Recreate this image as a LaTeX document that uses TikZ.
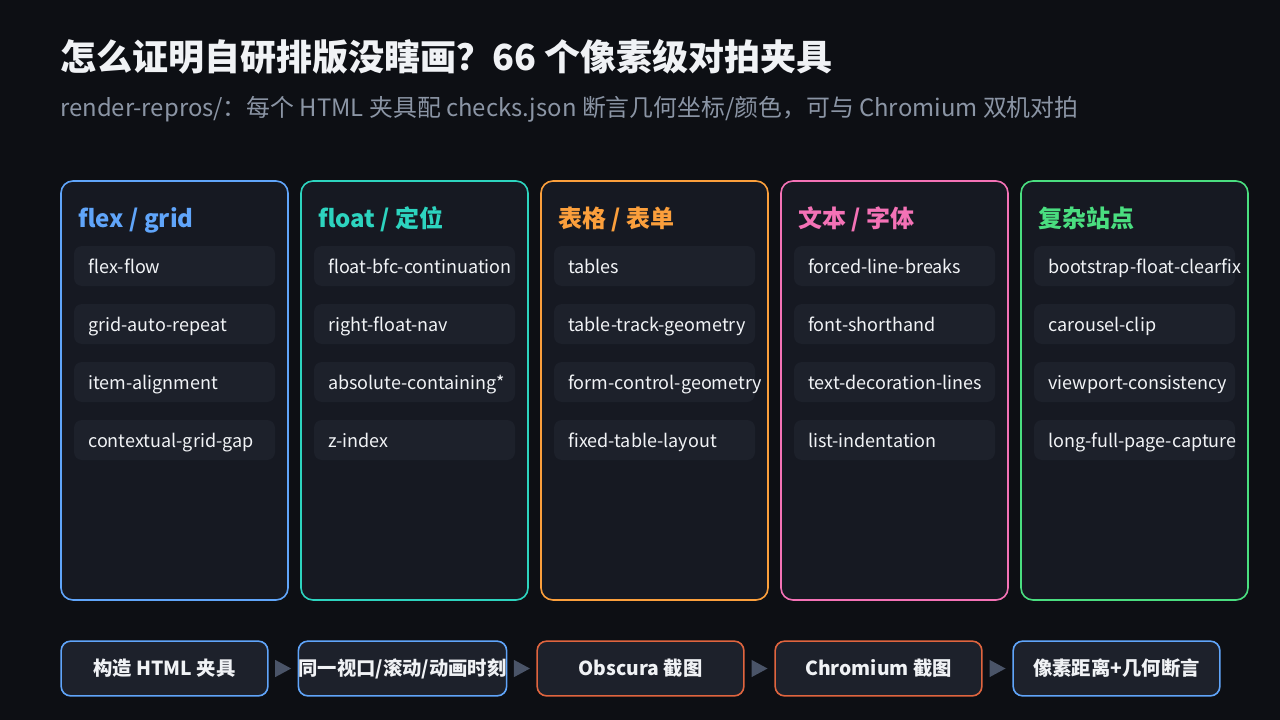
\documentclass[tikz,border=0pt]{standalone}
\usepackage{fontspec}
\setmainfont{Noto Sans CJK SC}
\usetikzlibrary{positioning}
\definecolor{bgc}{HTML}{0D0F14}
\definecolor{cardc}{HTML}{161922}
\definecolor{itemc}{HTML}{1D212B}
\definecolor{titlec}{HTML}{F0F2F5}
\definecolor{subc}{HTML}{8B95A5}
\definecolor{blu}{HTML}{60A5FA}
\definecolor{tea}{HTML}{2DD4BF}
\definecolor{ora}{HTML}{FB9F3C}
\definecolor{pnk}{HTML}{F472B6}
\definecolor{grn}{HTML}{4ADE80}
\definecolor{red}{HTML}{E0653F}
\definecolor{arr}{HTML}{4A5468}
\tikzset{
  card/.style={draw=#1, line width=1.2pt, fill=cardc, rounded corners=9pt},
  item/.style={fill=itemc, rounded corners=6pt},
  head/.style={anchor=base west, inner sep=0pt, text=#1, font=\fontsize{18}{20}\selectfont\bfseries},
  itxt/.style={anchor=base west, inner sep=0pt, text=titlec!90, font=\fontsize{13.5}{15}\selectfont},
  step/.style={draw=#1, line width=1.2pt, fill=itemc, rounded corners=7pt, minimum width=155pt, minimum height=41pt, inner sep=0pt, text=titlec, font=\fontsize{14.5}{16}\selectfont\bfseries},
  tip/.style={fill=arr}
}
\begin{document}
\begin{tikzpicture}[x=0.75pt,y=0.75pt,yscale=-1]
\fill[bgc] (0,0) rectangle (1280,720);
\useasboundingbox (0,0) rectangle (1280,720);

% title
\node[anchor=base west, inner sep=0pt, text=titlec, font=\fontsize{27}{30}\selectfont\bfseries] (title) at (60,71) {怎么证明自研排版没瞎画？66 个像素级对拍夹具};
\node[anchor=base west, inner sep=0pt, text=subc, font=\fontsize{17.9}{20}\selectfont] (sub) at (60,117) {render-repros/：每个 HTML 夹具配 checks.json 断言几何坐标/颜色，可与 Chromium 双机对拍};

% columns
\foreach \x/\c/\h/\a/\b/\cc/\d [count=\i] in {
  61/blu/{flex / grid}/flex-flow/grid-auto-repeat/item-alignment/contextual-grid-gap,
  301/tea/{float / 定位}/float-bfc-continuation/right-float-nav/absolute-containing*/z-index,
  541/ora/{表格 / 表单}/tables/table-track-geometry/form-control-geometry/fixed-table-layout,
  781/pnk/{文本 / 字体}/forced-line-breaks/font-shorthand/text-decoration-lines/list-indentation,
  1021/grn/复杂站点/bootstrap-float-clearfix/carousel-clip/viewport-consistency/long-full-page-capture}{
  \draw[card=\c] (\x,181) rectangle (\x+227,600);
  \node[head=\c] (h\i) at (\x+17,228) {\h};
  \foreach \t [count=\j] in {\a,\b,\cc,\d}{
    \fill[item] (\x+13,188+58*\j) rectangle (\x+214,228+58*\j);
    \node[itxt] (it\i\j) at (\x+27,215+58*\j) {\t};
  }
}

% pipeline
\node[step=blu] (s1) at (164.5,668.5) {构造 HTML 夹具};
\node[step=blu] (s2) at (402.5,668.5) {同一视口/滚动/动画时刻};
\node[step=red] (s3) at (640.5,668.5) {Obscura 截图};
\node[step=red] (s4) at (878.5,668.5) {Chromium 截图};
\node[step=blu] (s5) at (1116.5,668.5) {像素距离+几何断言};
\foreach \p/\q in {s1/s2,s2/s3,s3/s4,s4/s5}{
  \path (\p.east) -- (\q.west) coordinate[pos=0.5] (m\p);
  \fill[tip] ([xshift=-6pt,yshift=6.5pt]m\p) -- ([xshift=6pt]m\p) -- ([xshift=-6pt,yshift=-6.5pt]m\p) -- cycle;
}
\end{tikzpicture}
\end{document}
